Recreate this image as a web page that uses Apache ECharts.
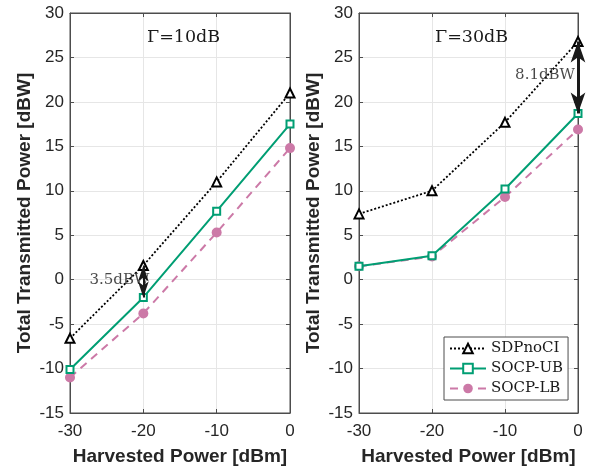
<!DOCTYPE html>
<html><head><meta charset="utf-8">
<script src="https://cdn.jsdelivr.net/npm/echarts@6/dist/echarts.min.js"></script>
<style>html,body{margin:0;padding:0;background:#fff}#c{width:593px;height:471px}</style>
</head><body><div id="c"></div>
<script>
// ---- data ----
const xValues = [-30, -20, -10, 0];
const seriesNames = ['SDPnoCI', 'SOCP-UB', 'SOCP-LB'];
const left_SDPnoCI = [-6.6, 1.6, 11.0, 21.0];
const left_SOCPUB = [-10.1, -2.0, 7.7, 17.5];
const left_SOCPLB = [-11.0, -3.8, 5.3, 14.8];
const right_SDPnoCI = [7.4, 10.0, 17.7, 26.8];
const right_SOCPUB = [1.5, 2.7, 10.2, 18.7];
const right_SOCPLB = [1.5, 2.6, 9.3, 16.9];
const yRange = [-15, 30];
const yStep = 5;
const xRange = [-30, 0];
const xStep = 10;
const panelTitles = ['\u0393=10dB', '\u0393=30dB'];
const gapLabels = ['3.5dBW', '8.1dBW'];
const leftArrow = [[-20, 1.6], [-20, -2.0]];
const rightArrow = [[0, 26.8], [0, 18.7]];
const leftLabelAt = [-20, 0];
const rightLabelAt = [0, 23];
const xName = 'Harvested Power [dBm]';
const yName = 'Total Transmitted Power [dBW]';

// ---- styles ----
const axisColor = '#4d4d4d';
const textColor = '#262626';
const gridColor = '#e6e6e6';
const sans = 'Liberation Sans, Arial, sans-serif';
const serif = 'DejaVu Serif, serif';
const grids = [
  {left: 70, right: 303, top: 13, bottom: 58},
  {left: 359, right: 15, top: 13, bottom: 58}
];

const zip = ys => xValues.map((x, i) => [x, ys[i]]);

const xAxes = [], yAxes = [];
grids.forEach((g, i) => {
  xAxes.push({
    gridIndex: i, type: 'value', min: xRange[0], max: xRange[1], interval: xStep,
    axisLine: {show: true, onZero: false, lineStyle: {color: axisColor, width: 1}},
    axisTick: {show: true, inside: true, length: 4, lineStyle: {color: axisColor}},
    axisLabel: {fontSize: 17, color: textColor, fontFamily: sans, margin: 10},
    splitLine: {show: true, lineStyle: {color: gridColor, width: 1}},
    name: xName, nameLocation: 'middle', nameGap: 34,
    nameTextStyle: {fontSize: 19, fontWeight: 'bold', color: textColor, fontFamily: sans}
  });
  xAxes.push({
    gridIndex: i, type: 'value', position: 'top', min: xRange[0], max: xRange[1], interval: xStep,
    axisLine: {show: true, onZero: false, lineStyle: {color: axisColor, width: 1}},
    axisTick: {show: true, inside: true, length: 4, lineStyle: {color: axisColor}},
    axisLabel: {show: false}, splitLine: {show: false}
  });
  yAxes.push({
    gridIndex: i, type: 'value', min: yRange[0], max: yRange[1], interval: yStep,
    axisLine: {show: true, onZero: false, lineStyle: {color: axisColor, width: 1}},
    axisTick: {show: true, inside: true, length: 4, lineStyle: {color: axisColor}},
    axisLabel: {fontSize: 17, color: textColor, fontFamily: sans, margin: 6},
    splitLine: {show: true, lineStyle: {color: gridColor, width: 1}},
    name: yName, nameLocation: 'middle', nameGap: 36, nameRotate: 90,
    nameTextStyle: {fontSize: 19, fontWeight: 'bold', color: textColor, fontFamily: sans}
  });
  yAxes.push({
    gridIndex: i, type: 'value', position: 'right', min: yRange[0], max: yRange[1], interval: yStep,
    axisLine: {show: true, onZero: false, lineStyle: {color: axisColor, width: 1}},
    axisTick: {show: true, inside: true, length: 4, lineStyle: {color: axisColor}},
    axisLabel: {show: false}, splitLine: {show: false}
  });
});

const panelData = [
  [left_SDPnoCI, left_SOCPUB, left_SOCPLB],
  [right_SDPnoCI, right_SOCPUB, right_SOCPLB]
];
const arrows = [leftArrow, rightArrow];
const labelAt = [leftLabelAt, rightLabelAt];
const arrowStyle = [
  {width: 2, size: [8, 16]},
  {width: 3, size: [11, 21]}
];

const series = [];
panelData.forEach((sets, p) => {
  const ax = {xAxisIndex: p * 2, yAxisIndex: p * 2};
  series.push(Object.assign({
    name: seriesNames[0], type: 'line', data: zip(sets[0]),
    symbol: 'emptyTriangle', symbolSize: 9,
    lineStyle: {color: '#000', width: 1.8, type: [2, 2]},
    itemStyle: {color: '#000', borderWidth: 1.5}, z: 3
  }, ax));
  series.push(Object.assign({
    name: seriesNames[1], type: 'line', data: zip(sets[1]),
    symbol: 'emptyRect', symbolSize: 7,
    lineStyle: {color: '#009E73', width: 2},
    itemStyle: {color: '#009E73', borderWidth: 1.5}, z: 4
  }, ax));
  series.push(Object.assign({
    name: seriesNames[2], type: 'line', data: zip(sets[2]),
    symbol: 'circle', symbolSize: 10,
    lineStyle: {color: '#CC79A7', width: 2, type: [8, 6]},
    itemStyle: {color: '#CC79A7'}, z: 2
  }, ax));
  // arrow annotation
  series.push(Object.assign({
    name: 'arrow' + p, type: 'line', data: [], silent: true, z: 6,
    markLine: {
      silent: true, animation: false,
      symbol: ['arrow', 'arrow'], symbolSize: arrowStyle[p].size,
      lineStyle: {color: '#1a1a1a', width: arrowStyle[p].width, type: 'solid'},
      label: {show: false},
      data: [[{coord: arrows[p][0]}, {coord: arrows[p][1]}]]
    }
  }, ax));
  // label annotation
  series.push(Object.assign({
    name: 'label' + p, type: 'scatter', data: [labelAt[p]], symbolSize: 0, silent: true, z: 7,
    label: {show: true, position: 'left', distance: p === 0 ? -6 : 3,
      formatter: gapLabels[p], fontFamily: serif, fontSize: 15, color: '#1a1a1a'}
  }, ax));
});

const chart = echarts.init(document.getElementById('c'), null, {renderer: 'canvas'});
chart.setOption({
  animation: false,
  backgroundColor: '#fff',
  grid: grids.map(g => Object.assign({show: true, borderColor: axisColor, borderWidth: 1, backgroundColor: 'transparent'}, g)),
  title: [
    {text: panelTitles[0], left: 147, top: 28, padding: 0, textStyle: {fontFamily: serif, fontSize: 17.5, fontWeight: 'normal', color: '#1a1a1a'}},
    {text: panelTitles[1], left: 435, top: 28, padding: 0, textStyle: {fontFamily: serif, fontSize: 17.5, fontWeight: 'normal', color: '#1a1a1a'}}
  ],
  legend: {
    data: seriesNames, orient: 'vertical', left: 444, top: 337,
    backgroundColor: '#fff', borderColor: axisColor, borderWidth: 1, borderRadius: 0,
    padding: [4, 5, 4, 5], itemWidth: 36, itemHeight: 12, itemGap: 5,
    textStyle: {fontFamily: serif, fontSize: 15, color: '#1a1a1a'}, z: 10
  },
  xAxis: xAxes,
  yAxis: yAxes,
  series: series
});
</script></body></html>
